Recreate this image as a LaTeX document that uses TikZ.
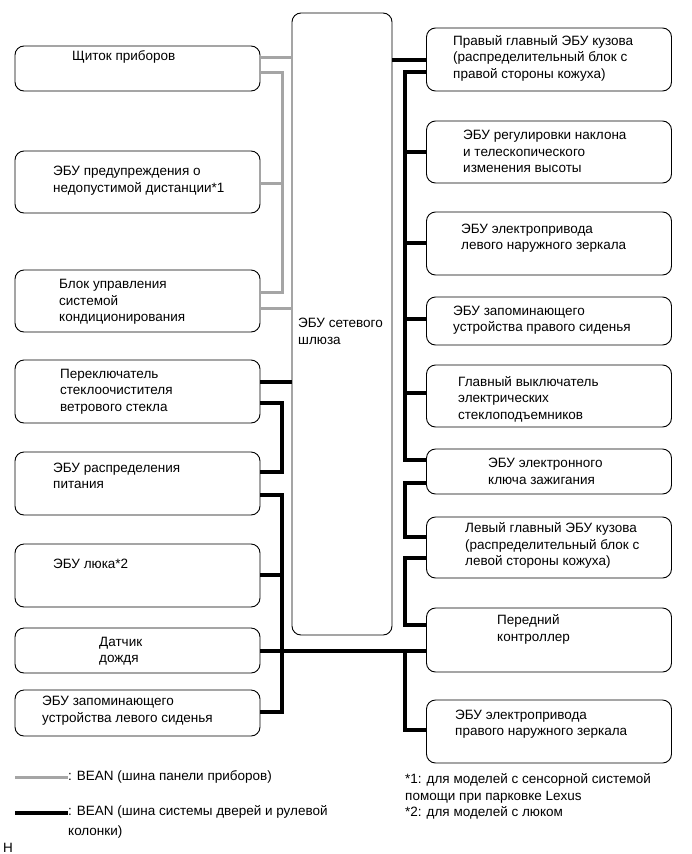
\documentclass[tikz,border=0pt]{standalone}
\usepackage{fontspec}
\setmainfont{Liberation Sans}
\usetikzlibrary{positioning}
\definecolor{beangray}{RGB}{165,165,165}

\begin{document}
\begin{tikzpicture}[x=1pt,y=-1pt,
    ecu/.style={draw,rounded corners=9pt,line width=0.9pt,inner sep=0pt,minimum width=245pt},
    txt/.style={anchor=west,align=left,inner sep=0pt,font=\fontsize{13.5}{16.5}\selectfont},
    gbus/.style={draw=beangray,line width=3pt},
    bbus/.style={draw=black,line width=4pt}]
    \useasboundingbox (0,0) rectangle (691,854);

    \coordinate (lbus) at (282,0);
    \coordinate (rbus) at (405,0);

    \node[ecu,minimum width=100pt,minimum height=622pt] (gw) at (342,324) {};

    \node[ecu,minimum height=45pt] (ipanel) at (137.5,68.5)  {};
    \node[ecu,minimum height=62pt] (warn)   at (137.5,182)   {};
    \node[ecu,minimum height=62pt] (aircon) at (137.5,301)   {};
    \node[ecu,minimum height=63pt] (wiper)  at (137.5,391.5) {};
    \node[ecu,minimum height=63pt] (power)  at (137.5,483.5) {};
    \node[ecu,minimum height=63pt] (roof)   at (137.5,575.5) {};
    \node[ecu,minimum height=45pt] (rain)   at (137.5,650.5) {};
    \node[ecu,minimum height=46pt] (lseat)  at (137.5,713)   {};

    \node[ecu,minimum height=63pt] (rbody)   at (549,59.5)  {};
    \node[ecu,minimum height=62pt] (tilt)    at (549,152)   {};
    \node[ecu,minimum height=63pt] (lmirror) at (549,243.5) {};
    \node[ecu,minimum height=48pt] (rseat)   at (549,321)   {};
    \node[ecu,minimum height=62pt] (pwin)    at (549,396)   {};
    \node[ecu,minimum height=45pt] (ikey)    at (549,471.5) {};
    \node[ecu,minimum height=61pt] (lbody)   at (549,547.5) {};
    \node[ecu,minimum height=64pt] (front)   at (549,640)   {};
    \node[ecu,minimum height=63pt] (rmirror) at (549,731.5) {};

    \node[txt] (t-ipanel)  at (72,57)     {Щиток приборов};
    \node[txt] (t-warn)    at (53,180.5)  {ЭБУ предупреждения о\\недопустимой дистанции*1};
    \node[txt] (t-aircon)  at (59,302)    {Блок управления\\системой\\кондиционирования};
    \node[txt] (t-wiper)   at (60,391.5)  {Переключатель\\стеклоочистителя\\ветрового стекла};
    \node[txt] (t-power)   at (53,476)    {ЭБУ распределения\\питания};
    \node[txt] (t-roof)    at (53,564)    {ЭБУ люка*2};
    \node[txt] (t-rain)    at (99,651)    {Датчик\\дождя};
    \node[txt] (t-lseat)   at (42,710.5)  {ЭБУ запоминающего\\устройства левого сиденья};
    \node[txt] (t-gw)      at (298,331.5) {ЭБУ сетевого\\шлюза};
    \node[txt] (t-rbody)   at (453,58)    {Правый главный ЭБУ кузова\\(распределительный блок с\\правой стороны кожуха)};
    \node[txt] (t-tilt)    at (463,151.5) {ЭБУ регулировки наклона\\и телескопического\\изменения высоты};
    \node[txt] (t-lmirror) at (461,238)   {ЭБУ электропривода\\левого наружного зеркала};
    \node[txt] (t-rseat)   at (453,320)   {ЭБУ запоминающего\\устройства правого сиденья};
    \node[txt] (t-pwin)    at (458,399)   {Главный выключатель\\электрических\\стеклоподъемников};
    \node[txt] (t-ikey)    at (488,471.5) {ЭБУ электронного\\ключа зажигания};
    \node[txt] (t-lbody)   at (465,545.5) {Левый главный ЭБУ кузова\\(распределительный блок с\\левой стороны кожуха)};
    \node[txt] (t-front)   at (497,629.5) {Передний\\контроллер};
    \node[txt] (t-rmirror) at (455,724)   {ЭБУ электропривода\\правого наружного зеркала};

    \draw[gbus] (ipanel.east |- 0,57) -- (gw.west |- 0,57);
    \draw[gbus] (ipanel.east |- 0,72) -| (lbus |- 0,292) -- (aircon.east |- 0,292);
    \draw[gbus] (warn.east |- 0,183) -- (lbus |- 0,183);
    \draw[gbus] (aircon.east |- 0,308) -- (gw.west |- 0,308);

    \draw[bbus] (wiper.east |- 0,382) -- (gw.west |- 0,382);
    \draw[bbus] (wiper.east |- 0,403) -| (lbus |- 0,472) -- (power.east |- 0,472);
    \draw[bbus] (power.east |- 0,495) -| (lbus |- 0,712) -- (lseat.east |- 0,712);
    \draw[bbus] (roof.east |- 0,575) -- (lbus |- 0,575);
    \draw[bbus] (rain.east |- 0,651) -- (front.west |- 0,651);
    \draw[bbus] (rbus |- 0,651) |- (rmirror.west |- 0,730);

    \draw[bbus] (gw.east |- 0,60) -- (rbody.west |- 0,60);
    \draw[bbus] (rbody.west |- 0,72) -| (rbus |- 0,460) -- (ikey.west |- 0,460);
    \draw[bbus] (tilt.west |- 0,152) -- (rbus |- 0,152);
    \draw[bbus] (lmirror.west |- 0,243) -- (rbus |- 0,243);
    \draw[bbus] (rseat.west |- 0,319) -- (rbus |- 0,319);
    \draw[bbus] (pwin.west |- 0,393) -- (rbus |- 0,393);
    \draw[bbus] (ikey.west |- 0,483) -| (rbus |- 0,537) -- (lbody.west |- 0,537);
    \draw[bbus] (lbody.west |- 0,558) -| (rbus |- 0,625) -- (front.west |- 0,625);

    \node[txt] (lg-gray) at (68,777) {: BEAN (шина панели приборов)};
    \node[txt,anchor=north west] (lg-black) at (68,805) {: BEAN (шина системы дверей и рулевой\\[3.5pt]колонки)};
    \coordinate (lg-gs) at (15,777);
    \coordinate (lg-bs) at (15,813);
    \draw[gbus] (lg-gs) -- (lg-gray.west);
    \draw[bbus] (lg-bs) -- (lg-black.north west |- lg-bs);

    \node[txt] (notes) at (405,796.5) {*1: для моделей с сенсорной системой\\помощи при парковке Lexus\\*2: для моделей с люком};
    \node[txt] (mark) at (3,848) {H};
\end{tikzpicture}
\end{document}
